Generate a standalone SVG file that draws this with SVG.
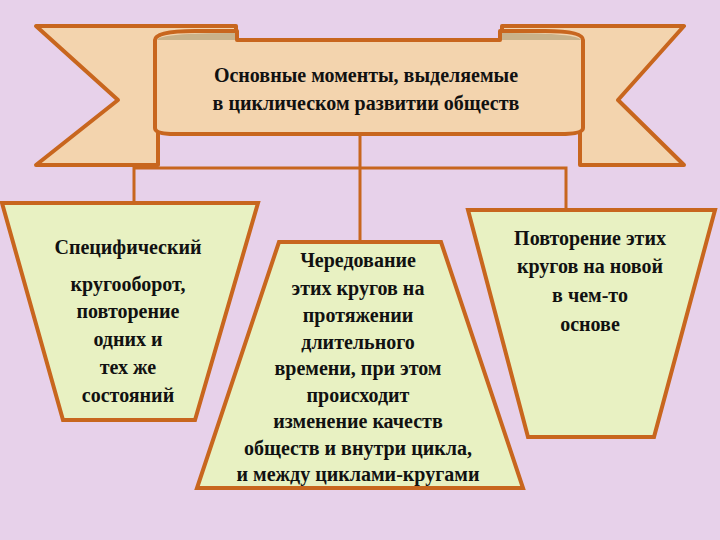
<svg xmlns="http://www.w3.org/2000/svg" width="720" height="540" viewBox="0 0 720 540">
<style>
.b{fill:#f3d4ae;stroke:#c8661e;stroke-width:4;stroke-linejoin:round}
.n{fill:#e8f1c2;stroke:#c8661e;stroke-width:4;stroke-linejoin:miter}
.c{stroke:#c8661e;stroke-width:3;fill:none}
text{font-family:'Liberation Serif','Times New Roman','DejaVu Serif',serif;font-weight:bold;font-size:20px;fill:#111;text-anchor:middle}
</style>
<rect width="720" height="540" fill="#e7d1ea"/>
<g id="banner">
<polygon class="b" points="36,26 236,26 236,45 158,45 158,165 36,165 118,100"/>
<polygon class="b" points="684,26 502,26 502,45 580,45 580,165 684,165 618,100"/>
<path class="b" d="M155,40 Q155,31 195,31 L237,31 L237,40 L500,40 L500,31 L545,31 Q583,31 583,40 L583,128 Q583,134 560,134 L175,134 Q155,134 155,128 Z"/>
<path d="M157,40 Q160,33 235,33 L235,40 Z M502,40 L502,33 Q578,33 581,40 Z" fill="#c9b28a"/>
<text x="366" y="82">Основные моменты, выделяемые</text>
<text x="366" y="110">в циклическом развитии обществ</text>
</g>
<g id="connectors">
<path class="c" d="M360,134 V240 M134,203 V168 H566 V210"/>
</g>
<g id="left">
<polygon class="n" points="2,203 258,203 195,420 63,420"/>
<text x="128" y="254">Специфический</text>
<text x="128" y="291">кругооборот,</text>
<text x="128" y="318">повторение</text>
<text x="128" y="346">одних и</text>
<text x="128" y="374">тех же</text>
<text x="128" y="402">состояний</text>
</g>
<g id="center">
<polygon class="n" points="279,242 441,242 523,488 197,488"/>
<text x="358" y="267">Чередование</text>
<text x="358" y="295">этих  кругов на</text>
<text x="358" y="322">протяжении</text>
<text x="358" y="349">длительного</text>
<text x="358" y="375">времени, при этом</text>
<text x="358" y="402">происходит</text>
<text x="358" y="428">изменение качеств</text>
<text x="358" y="455">обществ и внутри цикла,</text>
<text x="358" y="481">и между циклами-кругами</text>
</g>
<g id="right">
<polygon class="n" points="468,210 715,210 654,437 528,437"/>
<text x="590" y="245">Повторение этих</text>
<text x="590" y="273">кругов на новой</text>
<text x="590" y="302">в чем-то</text>
<text x="590" y="331">основе</text>
</g>
</svg>
